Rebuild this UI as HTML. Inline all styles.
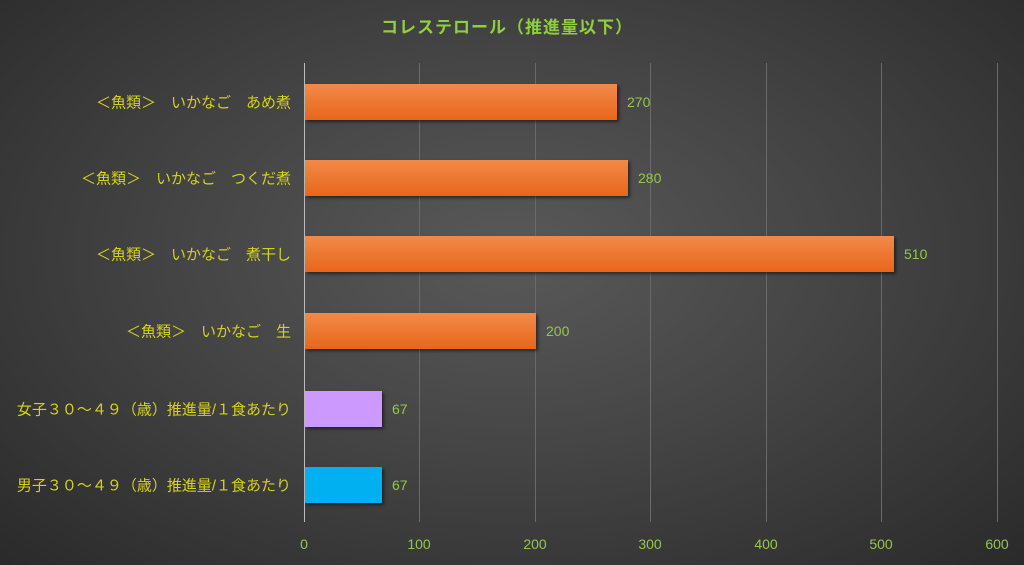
<!DOCTYPE html>
<html><head><meta charset="utf-8"><style>
body{margin:0;width:1024px;height:565px;overflow:hidden;background:radial-gradient(ellipse at 50% 45%,#595959 0%,#454545 45%,#2a2a2a 100%);font-family:"Liberation Sans","Noto Sans CJK JP",sans-serif;position:relative}
.t{position:absolute;left:0;width:1014px;top:13px;text-align:center;color:#8fcf3c;font-weight:bold;font-size:17px;letter-spacing:1px}
.g{position:absolute;top:63px;height:459px;width:1px;background:#6a6a6a}
.bar{position:absolute;left:305px;height:36px;box-shadow:2px 2px 3px rgba(0,0,0,.5)}
.o{background:linear-gradient(#f28a4a,#e8661a)}
.lab{position:absolute;right:733px;color:#d6d21a;font-size:15px;white-space:nowrap;transform:translateY(-50%)}
.v{position:absolute;color:#92c84a;font-size:14px;transform:translateY(-50%)}
.x{position:absolute;top:536px;color:#92c84a;font-size:14px;width:40px;margin-left:-20px;text-align:center}
</style></head><body>
<div class="t">コレステロール（推進量以下）</div>
<div class="g" style="left:419px"></div><div class="g" style="left:535px"></div><div class="g" style="left:650px"></div><div class="g" style="left:766px"></div><div class="g" style="left:881px"></div><div class="g" style="left:997px"></div>
<div class="g" style="left:304px;background:#bbb"></div>
<div class="bar o" style="top:84px;width:312px"></div>
<div class="bar o" style="top:160px;width:323px"></div>
<div class="bar o" style="top:236px;width:589px"></div>
<div class="bar o" style="top:313px;width:231px"></div>
<div class="bar" style="top:391px;width:77px;background:#cc99ff"></div>
<div class="bar" style="top:467px;width:77px;background:#00b0f0"></div>
<div class="lab" style="top:102px">＜魚類＞　いかなご　あめ煮</div>
<div class="lab" style="top:178px">＜魚類＞　いかなご　つくだ煮</div>
<div class="lab" style="top:254px">＜魚類＞　いかなご　煮干し</div>
<div class="lab" style="top:331px">＜魚類＞　いかなご　生</div>
<div class="lab" style="top:409px">女子３０～４９（歳）推進量/１食あたり</div>
<div class="lab" style="top:485px">男子３０～４９（歳）推進量/１食あたり</div>
<div class="v" style="left:627px;top:102px">270</div>
<div class="v" style="left:638px;top:178px">280</div>
<div class="v" style="left:904px;top:254px">510</div>
<div class="v" style="left:546px;top:331px">200</div>
<div class="v" style="left:392px;top:409px">67</div>
<div class="v" style="left:392px;top:485px">67</div>
<div class="x" style="left:304px">0</div><div class="x" style="left:419px">100</div><div class="x" style="left:535px">200</div><div class="x" style="left:650px">300</div><div class="x" style="left:766px">400</div><div class="x" style="left:881px">500</div><div class="x" style="left:997px">600</div>
</body></html>
